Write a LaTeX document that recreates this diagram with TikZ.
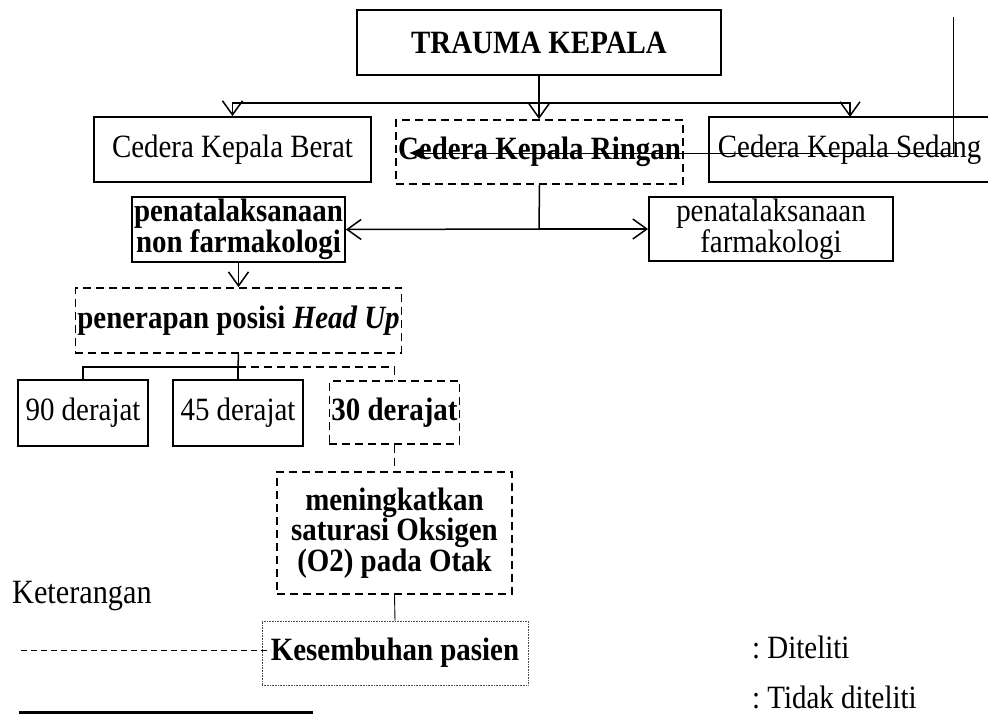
\documentclass[tikz,border=0pt]{standalone}
\usepackage{fontspec}
\setmainfont{Liberation Serif}[FakeStretch=0.89]
\usetikzlibrary{arrows.meta}
\newcommand{\bigfont}{\fontsize{32.5}{29}\selectfont\frenchspacing}
\newcommand{\legfont}{\fontsize{34}{34}\selectfont\frenchspacing}
\begin{document}
\begin{tikzpicture}[x=1pt,y=-1pt,
  every node/.style={font=\bigfont, inner sep=2pt},
  solidbox/.style={draw, line width=1.8pt, align=center, minimum width=#1},
  dashbox/.style={draw, line width=1.7pt, dash pattern=on 8pt off 5pt, align=center, minimum width=#1},
  dotbox/.style={draw=black!70, line width=0.6pt, densely dotted, align=center, minimum width=#1},
  conn/.style={line width=1.5pt},
  dconn/.style={line width=1.5pt, dash pattern=on 8pt off 5pt},
  arr/.style={line width=1.5pt, -{Straight Barb[length=14pt,width=20pt,line width=1.5pt]}},
  thinline/.style={line width=0.9pt},
  legtext/.style={font=\legfont, anchor=base west, inner sep=0pt}
]
\useasboundingbox (0,0) rectangle (988,716);
\clip (0,0) rectangle (988,716);

% nodes
\node[solidbox=364pt, minimum height=65pt, font=\bigfont\bfseries] (trauma) at (539,42.5) {TRAUMA KEPALA};
\node[solidbox=277pt, minimum height=65pt] (berat) at (232.5,149.5) {Cedera Kepala Berat};
\node[dashbox=284pt, minimum height=64pt, font=\bigfont\bfseries] (ringan) at (539.5,152) {Cedera Kepala Ringan};
\node[draw, line width=1.8pt, anchor=west, minimum height=65pt, text width=282pt, align=flush left, inner xsep=9pt] (sedang) at (708,149.5) {Cedera Kepala Sedang};
\node[solidbox=211pt, minimum height=65pt, font=\bigfont\bfseries] (nonfarm) at (238.5,229.5) {penatalaksanaan\\non farmakologi};
\node[solidbox=244pt, minimum height=60pt] (farm) at (771,229) {penatalaksanaan\\farmakologi};
\node[dashbox=309pt, minimum height=65pt, font=\bigfont\bfseries] (headup) at (238.5,320.5) {penerapan posisi \textit{Head Up}};
\node[solidbox=130pt, minimum height=66pt] (d90) at (83,413) {90 derajat};
\node[solidbox=130pt, minimum height=66pt] (d45) at (238,413) {45 derajat};
\node[dashbox=129pt, minimum height=63pt, font=\bigfont\bfseries] (d30) at (394.5,412.5) {30 derajat};
\node[dashbox=235pt, minimum height=122pt, font=\bigfont\bfseries] (oksigen) at (394.5,533) {meningkatkan\\saturasi Oksigen\\(O2) pada Otak};
\node[dotbox=266pt, minimum height=64pt, font=\bigfont\bfseries, inner xsep=1pt] (sembuh) at (395,653) {Kesembuhan pasien};

\node[legtext] (ket) at (12,603) {Keterangan};
\node[legtext, font=\bigfont] (dit) at (752,658) {: Diteliti};
\node[legtext, font=\bigfont] (tdk) at (752,708) {: Tidak diteliti};

% coordinates
\coordinate (bar) at (539,103);
\coordinate (sedangin) at (850,117);
\coordinate (split) at (539,229);
\coordinate (hsplit) at (238,367);
\coordinate (vtop) at (953,17);
\coordinate (vbend) at (953,153);
\coordinate (vend) at (409,153);
\coordinate (ld1) at (21,650);
\coordinate (ld2) at (271,650);
\coordinate (ls1) at (19,712);
\coordinate (ls2) at (313,712);

% connectors
\draw[conn] (trauma.south) -- (bar);
\draw[arr] (bar) -- (trauma.south |- ringan.north);
\draw[arr] (bar) -| (berat.north);
\draw[arr] (bar) -| (sedangin);

\draw[conn] (ringan.south) -- (split);
\draw[arr] (split) -- (nonfarm.east);
\draw[arr] (split) -- (farm.west);

\draw[arr] (nonfarm.south) -- (headup.north);

\draw[conn] (headup.south) -- (hsplit);
\draw[conn] (hsplit) -| (d90.north);
\draw[conn] (hsplit) -- (d45.north);
\draw[dconn] (hsplit) -| (d30.north);

\draw[dconn] (d30.south) -- (oksigen.north);
\draw[thinline] (oksigen.south) -- (sembuh.north);

\draw[thinline, -{Latex[length=13pt,width=12pt]}] (vtop) -- (vbend) -- (vend);

% legend lines
\draw[line width=1pt, dash pattern=on 6pt off 4pt] (ld1) -- (ld2);
\draw[line width=3pt] (ls1) -- (ls2);
\end{tikzpicture}
\end{document}
